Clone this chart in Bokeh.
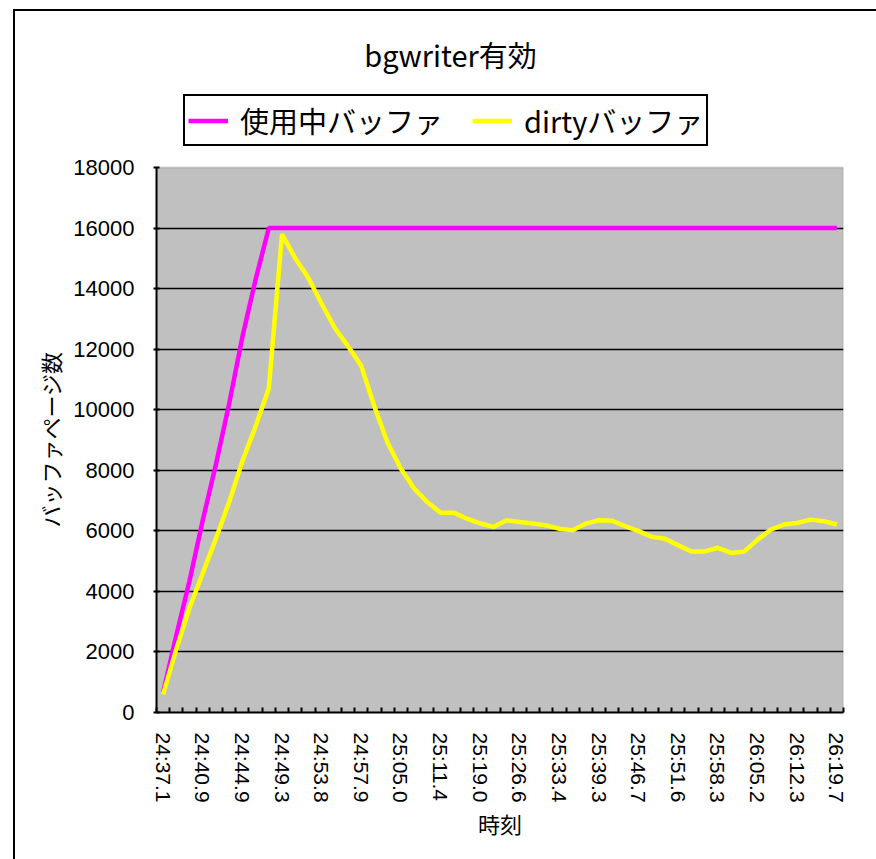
from bokeh.plotting import figure
from bokeh.layouts import column
from bokeh.models import (Range1d, FixedTicker, Legend, LegendItem, Label, Title, BoxAnnotation)
from bokeh.embed import file_html
from bokeh.resources import INLINE

# ---------------- data ----------------
title_text = "bgwriter有効"
series_names = ["使用中バッファ", "dirtyバッファ"]
x_title = "時刻"
y_title = "バッファページ数"

tick_labels = ["24:37.1", "24:40.9", "24:44.9", "24:49.3", "24:53.8", "24:57.9",
               "25:05.0", "25:11.4", "25:19.0", "25:26.6", "25:33.4", "25:39.3",
               "25:46.7", "25:51.6", "25:58.3", "26:05.2", "26:12.3", "26:19.7"]
label_step = 3  # a label on every third sample

used_buffers = [650, 2550, 4350, 6350, 8200, 10200, 12400, 14300, 16000, 16000,
                16000, 16000, 16000, 16000, 16000, 16000, 16000, 16000, 16000, 16000,
                16000, 16000, 16000, 16000, 16000, 16000, 16000, 16000, 16000, 16000,
                16000, 16000, 16000, 16000, 16000, 16000, 16000, 16000, 16000, 16000,
                16000, 16000, 16000, 16000, 16000, 16000, 16000, 16000, 16000, 16000,
                16000, 16000]

dirty_buffers = [600, 2100, 3450, 4600, 5750, 6950, 8300, 9450, 10700, 15800,
                 15000, 14350, 13500, 12700, 12100, 11450, 10100, 8900, 8050, 7400,
                 6950, 6600, 6600, 6400, 6250, 6130, 6350, 6290, 6240, 6180,
                 6070, 6020, 6240, 6350, 6330, 6150, 5990, 5800, 5740, 5520,
                 5320, 5320, 5440, 5270, 5320, 5710, 6040, 6210, 6260, 6370,
                 6320, 6210]

y_ticks = [0, 2000, 4000, 6000, 8000, 10000, 12000, 14000, 16000, 18000]

# ---------------- layout (pixels) ----------------
W, H = 861, 848
B_LEFT, B_RIGHT, B_TOP, B_BOTTOM = 141, 33, 5, 147
PLOT_H = 545                      # height of the grey plot area
FRAME_H = H - B_TOP - B_BOTTOM    # frame also holds title + legend

n = len(used_buffers)
xs = list(range(n))

JP = "Noto Sans CJK JP"
NUM = "Liberation Sans"

y_top = y_ticks[-1] * FRAME_H / PLOT_H

p = figure(width=W, height=H, output_backend="svg", toolbar_location=None,
           x_range=Range1d(-0.5, n - 0.5), y_range=Range1d(y_ticks[0], y_top),
           min_border_left=B_LEFT, min_border_right=B_RIGHT, min_border_top=B_TOP,
           min_border_bottom=B_BOTTOM)
p.background_fill_color = "white"
p.border_fill_color = "white"
p.outline_line_color = None

# grey plot area
plot_area = BoxAnnotation(bottom=y_ticks[0], top=y_ticks[-1],
                          fill_color="#C0C0C0", fill_alpha=1,
                          line_color="#808080", line_width=2, level="image")
p.add_layout(plot_area)

# axes
label_pos = [i * label_step for i in range(len(tick_labels))]
p.xaxis.ticker = FixedTicker(ticks=label_pos,
                             minor_ticks=[i - 0.5 for i in range(n + 1)])
p.xaxis.major_label_overrides = {pos: lab for pos, lab in zip(label_pos, tick_labels)}
p.xaxis.major_label_orientation = "vertical"
p.xaxis.major_label_text_font = NUM
p.xaxis.major_label_text_font_size = "21px"
p.xaxis.major_label_text_color = "black"
p.xaxis.major_label_standoff = 20
p.xaxis.major_tick_in = 0
p.xaxis.major_tick_out = 0
p.xaxis.minor_tick_in = 5
p.xaxis.minor_tick_out = 0
p.xaxis.minor_tick_line_color = "black"
p.xaxis.minor_tick_line_width = 2
p.xaxis.axis_line_color = "black"
p.xaxis.axis_line_width = 2
p.xaxis.axis_label = x_title
p.xaxis.axis_label_text_font = JP
p.xaxis.axis_label_text_font_size = "22px"
p.xaxis.axis_label_text_font_style = "normal"
p.xaxis.axis_label_text_color = "black"
p.xaxis.axis_label_standoff = 1

p.yaxis.ticker = FixedTicker(ticks=y_ticks)
p.yaxis.bounds = (y_ticks[0], y_ticks[-1])
p.yaxis.minor_tick_line_color = None
p.yaxis.major_tick_in = 3
p.yaxis.major_tick_out = 3
p.yaxis.major_tick_line_width = 2
p.yaxis.major_tick_line_color = "black"
p.yaxis.major_label_text_font = NUM
p.yaxis.major_label_text_font_size = "22px"
p.yaxis.major_label_text_color = "black"
p.yaxis.major_label_standoff = 19
p.yaxis.axis_line_color = "black"
p.yaxis.axis_line_width = 2

y_label = Title(text=y_title, align="left", offset=185,
                text_font=JP, text_font_size="22px", text_font_style="normal",
                text_color="black")
p.add_layout(y_label, "left")

p.xgrid.grid_line_color = None
p.ygrid.ticker = FixedTicker(ticks=y_ticks[1:-1])
p.ygrid.grid_line_color = "black"
p.ygrid.grid_line_width = 1.5

# lines
r_used = p.line(xs, used_buffers, line_color="#FF00FF", line_width=4.5)
r_dirty = p.line(xs, dirty_buffers, line_color="#FFFF00", line_width=4.5)

# legend and title (inside the frame, above the grey area)
legend = Legend(items=[LegendItem(label=series_names[0], renderers=[r_used]),
                       LegendItem(label=series_names[1], renderers=[r_dirty])],
                location=(27, 566), orientation="horizontal",
                label_text_font=JP, label_text_font_size="29px",
                label_text_color="black",
                glyph_width=40, glyph_height=29, label_standoff=12, spacing=29,
                padding=3, margin=0,
                border_line_color="black", border_line_width=2, border_line_alpha=1,
                background_fill_color="white", background_fill_alpha=1)
p.add_layout(legend, "center")

title = Label(x=294, y=659, x_units="screen", y_units="screen", text=title_text,
              text_align="center", text_baseline="middle",
              text_font=JP, text_font_size="29px", text_color="black")
p.add_layout(title)

page = column(p, margin=(9, 0, 0, 13),
              styles={"border-top": "2px solid black", "border-left": "2px solid black"})

open("out.html", "w").write(file_html(page, INLINE))
